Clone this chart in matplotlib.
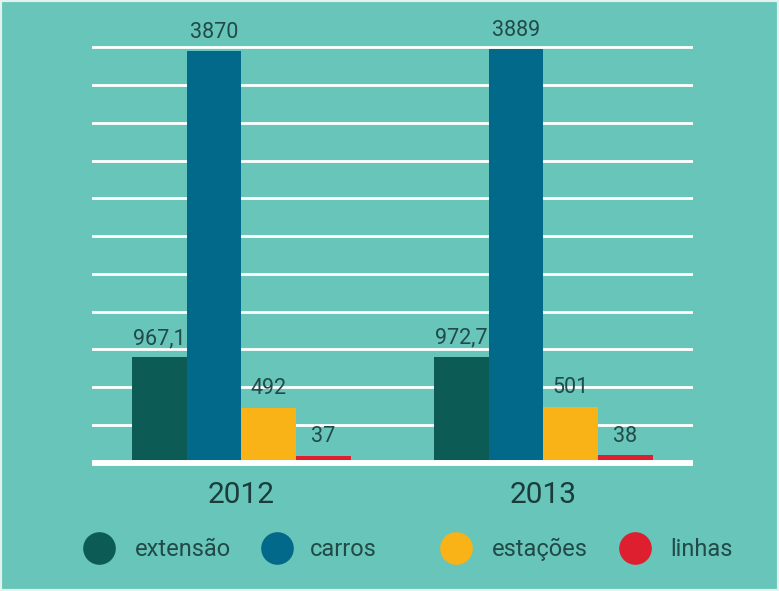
import numpy as np
import matplotlib
matplotlib.use('Agg')
import matplotlib.pyplot as plt
from matplotlib.patches import Rectangle

# dados
anos = ['2012', '2013']
series = ['extensão', 'carros', 'estações', 'linhas']
extensao = [967.1, 972.7]
carros = [3870, 3889]
estacoes = [492, 501]
linhas = [37, 38]

cores = ['#0c5c55', '#03698a', '#f9b316', '#dd1f2f']
cor_texto = '#214a48'
fundo = '#67c5b9'

plt.rcParams['font.family'] = ['Roboto', 'DejaVu Sans']

fig = plt.figure(figsize=(7.79, 5.91), dpi=100)
fig.patch.set_facecolor(fundo)

W, H = 779, 591
ax = fig.add_axes([91.7 / W, (H - 470) / H, (693.3 - 91.7) / W, 450 / H])
ax.set_facecolor(fundo)
ax.set_xlim(-0.495, 1.497)
ax.set_ylim(-99.5, 4166)

# linhas de grade brancas (decorativas)
base_y = -31
passo = 358
for k in range(1, 12):
    ax.axhline(base_y + k * passo, color='white', lw=2.0, zorder=1)
ax.axhline(base_y, color='white', lw=4.2, zorder=3)

x = np.arange(len(anos))
w = 0.181
valores = [extensao, carros, estacoes, linhas]
for i, (vals, cor) in enumerate(zip(valores, cores)):
    pos = x + (i - 1.5) * w
    ax.bar(pos, vals, width=w, color=cor, zorder=2, linewidth=0)
    for px, v in zip(pos, vals):
        txt = f"{v:g}".replace('.', ',')
        ax.annotate(txt, xy=(px, v), xytext=(0, 9.7), textcoords='offset points',
                    ha='center', va='baseline', fontsize=15.5, color=cor_texto)

ax.set_xticks(x)
ax.set_xticklabels(anos, fontsize=21.5, color='#1a3c3b')
ax.tick_params(axis='x', length=0, pad=8)
ax.set_yticks([])
for s in ax.spines.values():
    s.set_visible(False)

# legenda manual
leg = fig.add_axes([0, 0, 1, 1])
leg.set_xlim(0, W)
leg.set_ylim(H, 0)
leg.axis('off')
circ_x = [98.8, 277.5, 456.3, 635.3]
txt_x = [135, 310, 491.7, 670]
for cx, tx, cor, nome in zip(circ_x, txt_x, cores, series):
    leg.plot(cx, 548, 'o', ms=23.5, color=cor, mec='none')
    leg.text(tx, 556, nome, fontsize=17, color=cor_texto, ha='left', va='baseline')

# borda clara da imagem
fig.add_artist(Rectangle((0, 0), 1, 1, transform=fig.transFigure, fill=False,
                         edgecolor='#e4f1ef', lw=3))

fig.savefig('out.png', dpi=100, facecolor=fig.get_facecolor())
